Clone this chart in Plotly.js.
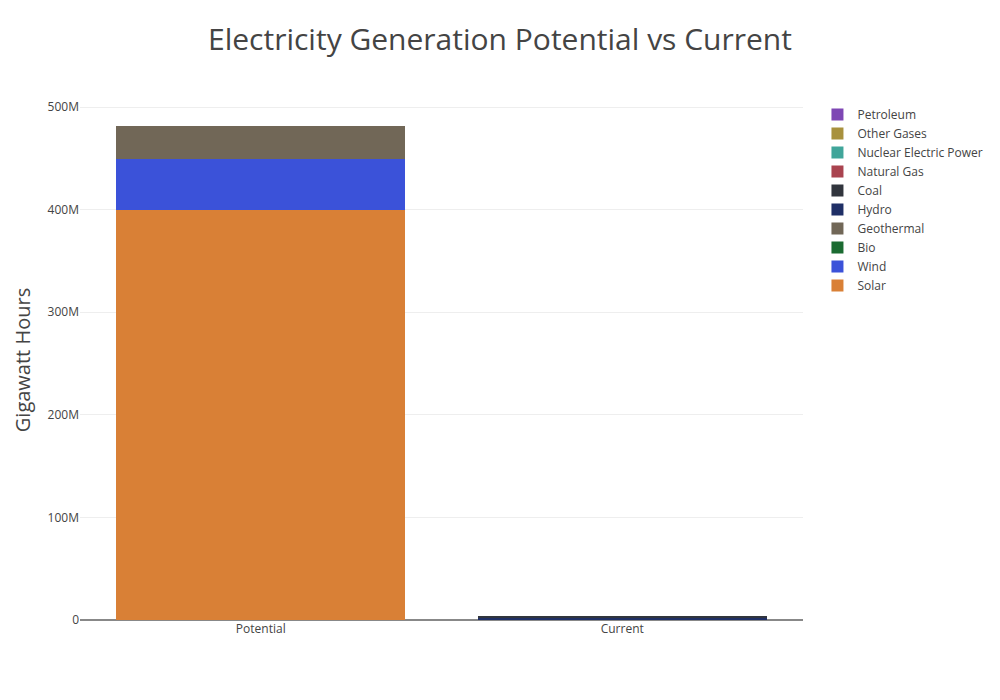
<!DOCTYPE html>
<html>
<head>
<meta charset="utf-8">
<script src="https://cdn.plot.ly/plotly-3.0.1.min.js"></script>
<style>html,body{margin:0;padding:0;background:#fff;}#chart{width:1000px;height:700px;}</style>
</head>
<body>
<div id="chart"></div>
<script>
const categories = ["Potential", "Current"];
const seriesNames = ["Solar", "Wind", "Bio", "Geothermal", "Hydro", "Coal", "Natural Gas", "Nuclear Electric Power", "Other Gases", "Petroleum"];
const solar = [400000000, 0];
const wind = [49500000, 0];
const bio = [0, 0];
const geothermal = [32000000, 0];
const hydro = [0, 2000000];
const coal = [0, 1800000];
const naturalGas = [0, 0];
const nuclear = [0, 0];
const otherGases = [0, 0];
const petroleum = [0, 0];
const seriesValues = [solar, wind, bio, geothermal, hydro, coal, naturalGas, nuclear, otherGases, petroleum];
const colors = ["#d98036", "#3b52d9", "#1b6b31", "#716757", "#1f2f66", "#31353d", "#a9434f", "#40a59a", "#a8913d", "#7e47b4"];

const traces = seriesNames.map((name, i) => ({
  type: "bar",
  name: name,
  x: categories,
  y: seriesValues[i],
  marker: {color: colors[i]}
}));

const layout = {
  width: 1000,
  height: 700,
  barmode: "stack",
  font: {family: "Open Sans, sans-serif", color: "#444"},
  title: {text: "Electricity Generation Potential vs Current", font: {size: 30, color: "#444"}, x: 0.5, y: 0.943, yanchor: "middle"},
  margin: {l: 80, r: 197, t: 100, b: 80},
  xaxis: {tickfont: {size: 12}},
  yaxis: {
    title: {text: "Gigawatt Hours", font: {size: 20}},
    gridcolor: "#eee",
    zerolinecolor: "#888",
    zerolinewidth: 1.5,
    tickfont: {size: 12}
  },
  legend: {font: {size: 12}},
  paper_bgcolor: "#fff",
  plot_bgcolor: "#fff",
  showlegend: true
};

Plotly.newPlot("chart", traces, layout, {displayModeBar: false});
</script>
</body>
</html>
